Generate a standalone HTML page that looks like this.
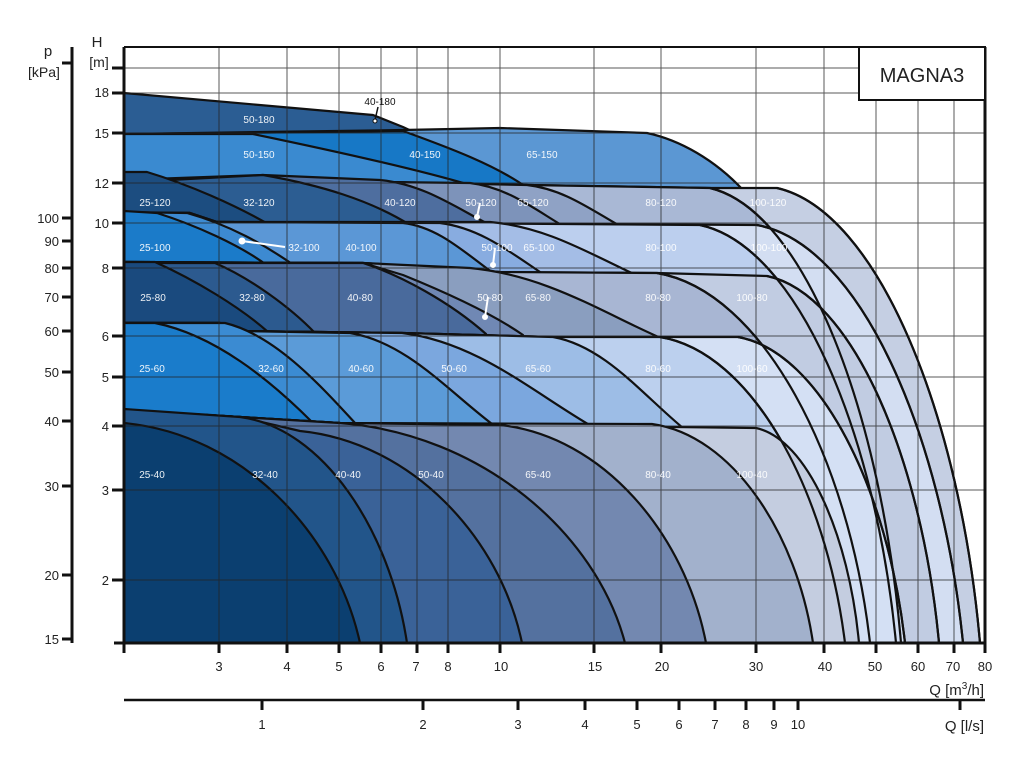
<!DOCTYPE html>
<html><head><meta charset="utf-8"><style>
html,body{margin:0;padding:0;background:#fff;}
svg{display:block;font-family:"Liberation Sans",sans-serif;}
</style></head><body>
<svg width="1024" height="768" viewBox="0 0 1024 768" xmlns="http://www.w3.org/2000/svg">
<rect width="1024" height="768" fill="#fff"/>
<g stroke="#111" stroke-width="2.2" stroke-linejoin="round">
<!-- 180 -->
<path fill="#2b5d93" d="M124,643 L124,93 L373,115 L403,127 L420,135 L420,643 Z"/>
<!-- 150 -->
<path fill="#5b97d3" d="M124,643 L124,134 L403,130 L500,128 L647,133 C680,140 715,160 743,190 L745,643 Z"/>
<path fill="#1778c6" d="M124,643 L124,134 L403,131 C450,148 495,165 526,187 L530,643 Z"/>
<path fill="#3a8ad0" d="M124,643 L124,134 L253,134 C330,150 420,170 470,185 L472,643 Z"/>
<!-- 120 -->
<path fill="#c5cfe3" d="M124,643 L124,183 L380,182 L527,185 L710,188 L777,188 C878,211 960,415 980,643 Z"/>
<path fill="#a9b8d5" d="M124,643 L124,183 L380,182 L527,185 L710,188 C806,211 882,416 901,643 Z"/>
<path fill="#8fa2c5" d="M124,643 L124,183 L380,182 L527,185 C563,189 590,209 620,226 L622,643 Z"/>
<path fill="#7d93ba" d="M124,643 L124,183 L380,182 L470,183 C506,187 533,208 563,226 L565,643 Z"/>
<path fill="#4e6e9f" d="M124,643 L124,180 L263,175 L380,180 C423,184 455,207 490,225 L492,643 Z"/>
<path fill="#2c5d92" d="M124,643 L124,180 L170,180 L263,175 C320,185 370,200 410,225 L412,643 Z"/>
<path fill="#1c4d80" d="M124,643 L124,172 L147,172 C190,185 235,205 268,224 L270,643 Z"/>
<!-- 100 -->
<path fill="#d3def2" d="M124,643 L124,213 L190,213 L217,222 L403,223 L757,225 C860,244 942,433 963,643 Z"/>
<path fill="#bccfee" d="M124,643 L124,213 L190,213 L217,222 L403,223 L700,225 C798,246 876,434 896,643 Z"/>
<path fill="#a4bde6" d="M124,643 L124,213 L190,213 L217,222 L490,222 C547,227 590,254 636,275 L640,643 Z"/>
<path fill="#88ace0" d="M124,643 L124,213 L190,213 L217,222 L440,223 C480,228 510,252 543,274 L545,643 Z"/>
<path fill="#5b97d6" d="M124,643 L124,213 L190,213 L217,222 L403,223 C438,227 464,252 493,273 L495,643 Z"/>
<path fill="#3d8ad1" d="M124,643 L124,212 L187,213 C230,225 265,245 295,266 L297,643 Z"/>
<path fill="#1b7bc9" d="M124,643 L124,211 L157,213 C195,225 240,245 268,266 L270,643 Z"/>
<!-- 80 -->
<path fill="#c1cce2" d="M124,643 L124,262 L363,263 L500,272 L657,273 L767,276 C853,294 922,460 939,643 Z"/>
<path fill="#a8b6d3" d="M124,643 L124,262 L363,263 L500,272 L657,273 C763,291 849,458 870,643 Z"/>
<path fill="#8a9ebf" d="M124,643 L124,262 L363,263 L470,268 C546,275 603,313 663,339 L665,643 Z"/>
<path fill="#7088b4" d="M124,643 L124,263 L363,263 L403,275 C440,290 490,312 523,335 L525,643 Z"/>
<path fill="#496a9c" d="M124,643 L124,263 L363,263 C400,275 450,302 486,334 L488,643 Z"/>
<path fill="#2c5a8f" d="M124,643 L124,263 L215,263 C250,278 290,307 315,333 L317,643 Z"/>
<path fill="#1a4a7e" d="M124,643 L124,262 L155,262 C195,280 240,307 268,332 L270,643 Z"/>
<!-- 60 -->
<path fill="#d4e0f4" d="M124,643 L124,323 L220,323 L240,331 L402,333 L553,337 L738,337 C821,352 888,490 905,643 Z"/>
<path fill="#bcd0ee" d="M124,643 L124,323 L220,323 L240,331 L402,333 L553,337 L660,337 C752,352 826,490 845,643 Z"/>
<path fill="#9dbde6" d="M124,643 L124,323 L220,323 L240,331 L402,333 L553,337 C604,346 642,394 683,428 L685,643 Z"/>
<path fill="#7ba7de" d="M124,643 L124,323 L220,323 L240,331 L402,333 C477,342 534,393 593,427 L595,643 Z"/>
<path fill="#5b9bd8" d="M124,643 L124,323 L220,323 L240,331 L350,333 C407,342 450,393 496,427 L498,643 Z"/>
<path fill="#3b8bd2" d="M124,643 L124,323 L225,323 C275,335 320,385 356,424 L358,643 Z"/>
<path fill="#1a7ccb" d="M124,643 L124,323 L155,323 C215,335 270,380 312,422 L314,643 Z"/>
<!-- 40 -->
<path fill="#c4cde0" d="M124,643 L124,410 L240,417 L340,423 L756,428 C807,439 849,535 859,643 Z"/>
<path fill="#a2b1cc" d="M124,643 L124,410 L240,417 L340,423 L652,424 C732,435 797,533 813,643 Z"/>
<path fill="#7388b0" d="M124,643 L124,410 L240,417 L340,423 L500,425 C603,436 685,534 706,643 Z"/>
<path fill="#54719f" d="M124,643 L124,410 L240,417 L340,423 C482,434 596,533 625,643 Z"/>
<path fill="#3a6298" d="M124,643 L124,410 L240,417 L300,431 C411,442 500,537 522,643 Z"/>
<path fill="#22558a" d="M124,643 L124,409 L240,417 C323,428 390,530 407,643 Z"/>
<path fill="#0b3f70" d="M124,643 L124,423 C242,434 336,533 360,643 Z"/>
</g>
<!-- grid -->
<g stroke="#222" stroke-width="1" opacity="0.75">
<line x1="219" y1="47" x2="219" y2="643"/><line x1="287" y1="47" x2="287" y2="643"/>
<line x1="339" y1="47" x2="339" y2="643"/><line x1="381" y1="47" x2="381" y2="643"/>
<line x1="417" y1="47" x2="417" y2="643"/><line x1="448" y1="47" x2="448" y2="643"/>
<line x1="500" y1="47" x2="500" y2="643"/><line x1="594" y1="47" x2="594" y2="643"/>
<line x1="661" y1="47" x2="661" y2="643"/><line x1="756" y1="47" x2="756" y2="643"/>
<line x1="824" y1="47" x2="824" y2="643"/><line x1="876" y1="47" x2="876" y2="643"/>
<line x1="918" y1="47" x2="918" y2="643"/><line x1="954" y1="47" x2="954" y2="643"/>
<line x1="124" y1="68" x2="985" y2="68"/><line x1="124" y1="93" x2="985" y2="93"/>
<line x1="124" y1="133" x2="985" y2="133"/><line x1="124" y1="183" x2="985" y2="183"/>
<line x1="124" y1="223" x2="985" y2="223"/><line x1="124" y1="268" x2="985" y2="268"/>
<line x1="124" y1="336" x2="985" y2="336"/><line x1="124" y1="377" x2="985" y2="377"/>
<line x1="124" y1="426" x2="985" y2="426"/><line x1="124" y1="490" x2="985" y2="490"/>
<line x1="124" y1="580" x2="985" y2="580"/>
</g>
<!-- re-stroke tail curves -->
<g fill="none" stroke="#111" stroke-width="2.2">
<path d="M777,188 C878,211 960,415 980,643"/>
<path d="M710,188 C806,211 882,416 901,643"/>
<path d="M757,225 C860,244 942,433 963,643"/>
<path d="M700,225 C798,246 876,434 896,643"/>
<path d="M767,276 C853,294 922,460 939,643"/>
<path d="M657,273 C763,291 849,458 870,643"/>
<path d="M738,337 C821,352 888,490 905,643"/>
<path d="M660,337 C752,352 826,490 845,643"/>
</g>
<!-- frame -->
<g stroke="#111" fill="none">
<line x1="124" y1="47" x2="985" y2="47" stroke-width="2"/>
<line x1="985" y1="47" x2="985" y2="643" stroke-width="3"/>
<line x1="124" y1="47" x2="124" y2="643" stroke-width="3"/>
<line x1="114" y1="643" x2="986" y2="643" stroke-width="3"/>
<line x1="72" y1="47" x2="72" y2="643" stroke-width="3"/>
<line x1="124" y1="700" x2="985" y2="700" stroke-width="2.5"/>
</g>
<!-- ticks -->
<g stroke="#111" stroke-width="3">
<line x1="112" y1="68" x2="124" y2="68"/><line x1="112" y1="93" x2="124" y2="93"/>
<line x1="112" y1="133" x2="124" y2="133"/><line x1="112" y1="183" x2="124" y2="183"/>
<line x1="112" y1="223" x2="124" y2="223"/><line x1="112" y1="268" x2="124" y2="268"/>
<line x1="112" y1="336" x2="124" y2="336"/><line x1="112" y1="377" x2="124" y2="377"/>
<line x1="112" y1="426" x2="124" y2="426"/><line x1="112" y1="490" x2="124" y2="490"/>
<line x1="112" y1="580" x2="124" y2="580"/>
<line x1="62" y1="63" x2="72" y2="63"/><line x1="62" y1="218" x2="72" y2="218"/>
<line x1="62" y1="241" x2="72" y2="241"/><line x1="62" y1="268" x2="72" y2="268"/>
<line x1="62" y1="297" x2="72" y2="297"/><line x1="62" y1="331" x2="72" y2="331"/>
<line x1="62" y1="372" x2="72" y2="372"/><line x1="62" y1="421" x2="72" y2="421"/>
<line x1="62" y1="486" x2="72" y2="486"/><line x1="62" y1="639" x2="72" y2="639"/>
<line x1="62" y1="575" x2="72" y2="575"/>
<line x1="124" y1="643" x2="124" y2="653"/><line x1="219" y1="643" x2="219" y2="653"/>
<line x1="287" y1="643" x2="287" y2="653"/><line x1="339" y1="643" x2="339" y2="653"/>
<line x1="381" y1="643" x2="381" y2="653"/><line x1="417" y1="643" x2="417" y2="653"/>
<line x1="448" y1="643" x2="448" y2="653"/><line x1="500" y1="643" x2="500" y2="653"/>
<line x1="594" y1="643" x2="594" y2="653"/><line x1="661" y1="643" x2="661" y2="653"/>
<line x1="756" y1="643" x2="756" y2="653"/><line x1="824" y1="643" x2="824" y2="653"/>
<line x1="876" y1="643" x2="876" y2="653"/><line x1="918" y1="643" x2="918" y2="653"/>
<line x1="954" y1="643" x2="954" y2="653"/><line x1="985" y1="643" x2="985" y2="653"/>
<line x1="262" y1="700" x2="262" y2="710"/><line x1="423" y1="700" x2="423" y2="710"/>
<line x1="518" y1="700" x2="518" y2="710"/><line x1="585" y1="700" x2="585" y2="710"/>
<line x1="637" y1="700" x2="637" y2="710"/><line x1="679" y1="700" x2="679" y2="710"/>
<line x1="715" y1="700" x2="715" y2="710"/><line x1="746" y1="700" x2="746" y2="710"/>
<line x1="774" y1="700" x2="774" y2="710"/><line x1="798" y1="700" x2="798" y2="710"/>
<line x1="960" y1="700" x2="960" y2="710"/>
</g>
<!-- axis text -->
<g fill="#222" font-size="14">
<text x="97" y="47" text-anchor="middle" font-size="15">H</text>
<text x="99" y="67" text-anchor="middle">[m]</text>
<text x="48" y="56" text-anchor="middle" font-size="15">p</text>
<text x="44" y="77" text-anchor="middle">[kPa]</text>
</g>
<g fill="#222" font-size="13" text-anchor="end">
<text x="109" y="97">18</text><text x="109" y="138">15</text><text x="109" y="188">12</text>
<text x="109" y="228">10</text><text x="109" y="273">8</text><text x="109" y="341">6</text>
<text x="109" y="382">5</text><text x="109" y="431">4</text><text x="109" y="495">3</text>
<text x="109" y="585">2</text>
<text x="59" y="223">100</text><text x="59" y="246">90</text><text x="59" y="273">80</text>
<text x="59" y="302">70</text><text x="59" y="336">60</text><text x="59" y="377">50</text>
<text x="59" y="426">40</text><text x="59" y="491">30</text><text x="59" y="580">20</text>
<text x="59" y="644">15</text>
</g>
<g fill="#222" font-size="13" text-anchor="middle">
<text x="219" y="671">3</text><text x="287" y="671">4</text><text x="339" y="671">5</text>
<text x="381" y="671">6</text><text x="416" y="671">7</text><text x="448" y="671">8</text>
<text x="501" y="671">10</text><text x="595" y="671">15</text><text x="662" y="671">20</text>
<text x="756" y="671">30</text><text x="825" y="671">40</text><text x="875" y="671">50</text>
<text x="918" y="671">60</text><text x="953" y="671">70</text><text x="985" y="671">80</text>
<text x="262" y="729">1</text><text x="423" y="729">2</text><text x="518" y="729">3</text>
<text x="585" y="729">4</text><text x="637" y="729">5</text><text x="679" y="729">6</text>
<text x="715" y="729">7</text><text x="746" y="729">8</text><text x="774" y="729">9</text>
<text x="798" y="729">10</text>
</g>
<g fill="#222" font-size="15" text-anchor="end">
<text x="984" y="695">Q [m<tspan font-size="10" dy="-6">3</tspan><tspan dy="6">/h]</tspan></text>
<text x="984" y="731">Q [l/s]</text>
</g>
<!-- MAGNA3 box -->
<rect x="859" y="47" width="126" height="53" fill="#fff" stroke="#111" stroke-width="2"/>
<text x="922" y="82" text-anchor="middle" font-size="20" fill="#222">MAGNA3</text>
<!-- pointers -->
<g stroke="#fff" stroke-width="2" fill="#fff">
<line x1="242" y1="241" x2="285" y2="247"/><circle cx="242" cy="241" r="2.5"/>
<line x1="480" y1="203" x2="477" y2="217"/><circle cx="477" cy="217" r="2"/>
<line x1="495" y1="248" x2="493" y2="265"/><circle cx="493" cy="265" r="2"/>
<line x1="488" y1="297" x2="485" y2="317"/><circle cx="485" cy="317" r="2"/>
</g>
<line x1="378" y1="107" x2="375" y2="120" stroke="#111" stroke-width="1.5"/>
<circle cx="375" cy="121" r="2" fill="#fff" stroke="#111" stroke-width="1"/>
<text x="380" y="105" text-anchor="middle" font-size="10" fill="#111">40-180</text>
<!-- labels -->
<g fill="#fff" font-size="10" text-anchor="middle" opacity="0.92">
<text x="259" y="123">50-180</text>
<text x="259" y="158">50-150</text><text x="425" y="158">40-150</text><text x="542" y="158">65-150</text>
<text x="155" y="206">25-120</text><text x="259" y="206">32-120</text><text x="400" y="206">40-120</text>
<text x="481" y="206">50-120</text><text x="533" y="206">65-120</text><text x="661" y="206">80-120</text><text x="768" y="206">100-120</text>
<text x="155" y="251">25-100</text><text x="304" y="251">32-100</text><text x="361" y="251">40-100</text>
<text x="497" y="251">50-100</text><text x="539" y="251">65-100</text><text x="661" y="251">80-100</text><text x="769" y="251">100-100</text>
<text x="153" y="301">25-80</text><text x="252" y="301">32-80</text><text x="360" y="301">40-80</text>
<text x="490" y="301">50-80</text><text x="538" y="301">65-80</text><text x="658" y="301">80-80</text><text x="752" y="301">100-80</text>
<text x="152" y="372">25-60</text><text x="271" y="372">32-60</text><text x="361" y="372">40-60</text>
<text x="454" y="372">50-60</text><text x="538" y="372">65-60</text><text x="658" y="372">80-60</text><text x="752" y="372">100-60</text>
<text x="152" y="478">25-40</text><text x="265" y="478">32-40</text><text x="348" y="478">40-40</text>
<text x="431" y="478">50-40</text><text x="538" y="478">65-40</text><text x="658" y="478">80-40</text><text x="752" y="478">100-40</text>
</g>
</svg>
</body></html>
